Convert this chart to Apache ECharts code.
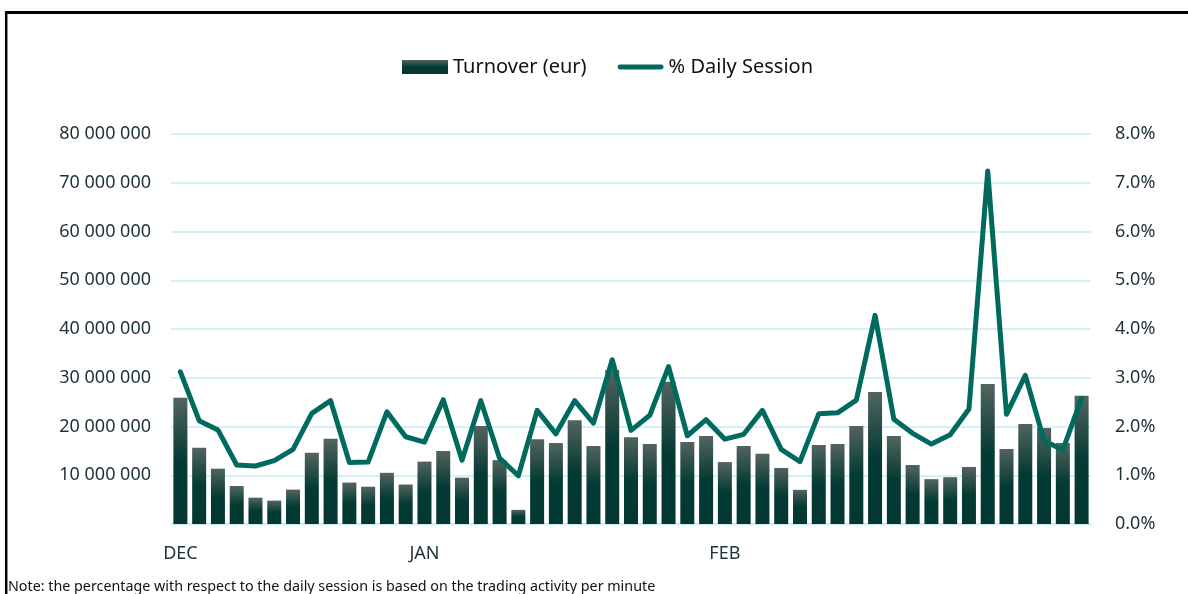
<!DOCTYPE html>
<html>
<head>
<meta charset="utf-8">
<script src="https://cdn.jsdelivr.net/npm/echarts@6/dist/echarts.min.js"></script>
<style>
  html, body { margin: 0; padding: 0; background: #fff; }
  #chart { width: 1188px; height: 594px; }
</style>
</head>
<body>
<div id="chart"></div>
<script>
// daily turnover (eur) and share of the daily session (%)
const turnover = [
  25.9, 15.65, 11.35, 7.8, 5.4, 4.8, 7.05, 14.6, 17.5, 8.5, 7.65, 10.5, 8.1,
  12.8, 15.0, 9.5, 20.1, 13.1, 2.9, 17.4, 16.6, 21.3, 16.0, 31.6, 17.8, 16.4,
  29.2, 16.8, 18.05, 12.7, 16.0, 14.4, 11.5, 7.0, 16.2, 16.4, 20.1, 27.1, 18.05,
  12.1, 9.2, 9.6, 11.7, 28.7, 15.4, 20.5, 19.7, 16.6, 26.3
].map(v => v * 1e6);

const dailySession = [
  3.12, 2.12, 1.93, 1.21, 1.19, 1.30, 1.53, 2.27, 2.53, 1.26, 1.27, 2.30, 1.79,
  1.68, 2.55, 1.31, 2.53, 1.35, 0.99, 2.33, 1.85, 2.53, 2.07, 3.37, 1.92, 2.23,
  3.23, 1.81, 2.14, 1.74, 1.84, 2.33, 1.53, 1.28, 2.26, 2.28, 2.54, 4.28, 2.15,
  1.86, 1.64, 1.83, 2.36, 7.24, 2.25, 3.05, 1.71, 1.52, 2.58
];

// month label on the first trading day of each month
const monthNames = ['DEC', 'JAN', 'FEB'];
const monthStart = [0, 13, 29];

const categories = turnover.map((_, i) => {
  const k = monthStart.indexOf(i);
  return k >= 0 ? monthNames[k] : '';
});

const font = 'Noto Sans';
const labelColor = '#1c3337';
const gridColor = '#c6ecf4';
const lineColor = '#006a5e';

let myChart = echarts.init(document.getElementById('chart'));

option = {
  animation: false,
  textStyle: { fontFamily: font },
  legend: {
    left: 402,
    top: 57,
    padding: 0,
    itemWidth: 46,
    itemHeight: 14,
    itemGap: 31,
    textStyle: { fontFamily: font, fontSize: 20, color: '#111' },
    data: [
      { name: 'Turnover (eur)', icon: 'rect' },
      {
        name: '% Daily Session',
        // thin rounded stroke, like the series line
        icon: 'path://M2.5,0 H45.5 A2.5,2.5 0 0 1 45.5,5 H2.5 A2.5,2.5 0 0 1 2.5,0 Z',
        itemStyle: { color: lineColor }
      }
    ]
  },
  grid: { left: 171, right: 97, top: 134, bottom: 70 },
  xAxis: {
    type: 'category',
    data: categories,
    axisTick: { show: false },
    axisLine: { lineStyle: { color: gridColor, width: 1.5 } },
    axisLabel: {
      interval: 0,
      margin: 21,
      fontSize: 18,
      color: labelColor
    }
  },
  yAxis: [
    {
      type: 'value',
      min: 0,
      max: 80000000,
      interval: 10000000,
      axisLabel: {
        margin: 20,
        fontSize: 18,
        color: labelColor,
        formatter: function (v) {
          if (v === 0) return '';
          return String(v).replace(/\B(?=(\d{3})+(?!\d))/g, ' ');
        }
      },
      splitLine: { lineStyle: { color: gridColor, width: 1.5 } }
    },
    {
      type: 'value',
      min: 0,
      max: 8,
      interval: 1,
      axisLabel: {
        margin: 24,
        fontSize: 18,
        color: labelColor,
        formatter: v => v.toFixed(1) + '%'
      },
      splitLine: { show: false }
    }
  ],
  series: [
    {
      name: 'Turnover (eur)',
      type: 'bar',
      barWidth: 14,
      data: turnover,
      itemStyle: {
        color: new echarts.graphic.LinearGradient(0, 0, 0, 1, [
          { offset: 0, color: '#536460' },
          { offset: 0.5, color: '#033a33' },
          { offset: 1, color: '#023831' }
        ])
      }
    },
    {
      name: '% Daily Session',
      type: 'line',
      yAxisIndex: 1,
      symbol: 'none',
      data: dailySession,
      lineStyle: { color: lineColor, width: 5, cap: 'round', join: 'round' },
      itemStyle: { color: lineColor }
    }
  ],
  graphic: [
    // frame: top and left edge
    { type: 'line', shape: { x1: 5, y1: 12.5, x2: 1188, y2: 12.5 }, style: { stroke: '#000', lineWidth: 3 } },
    { type: 'line', shape: { x1: 6.2, y1: 11, x2: 6.2, y2: 594 }, style: { stroke: '#000', lineWidth: 2.5 } },
    {
      type: 'text',
      left: 8,
      top: 580,
      style: {
        text: 'Note: the percentage with respect to the daily session is based on the trading activity per minute',
        font: '14.3px "Noto Sans"',
        fill: '#111'
      }
    }
  ]
};

myChart.setOption(option);
</script>
</body>
</html>
